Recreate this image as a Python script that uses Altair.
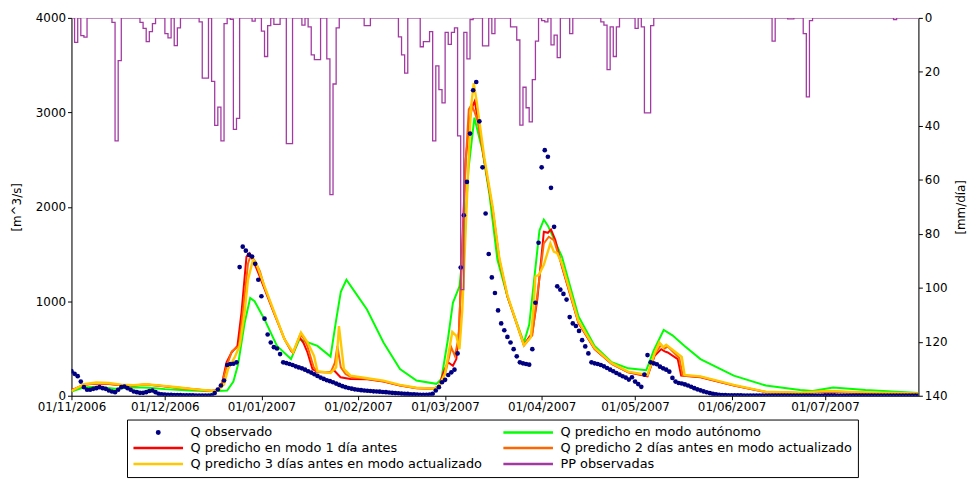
import altair as alt
import pandas as pd

START = "2006-11-01"

# ---------------- observed daily flow [m^3/s], day 0 = 01/11/2006 ----------------
q_obs = [
    260, 232, 207, 150, 91, 63, 63, 73, 80, 91,
    80, 73, 56, 45, 38, 63, 91, 98, 80, 63,
    45, 38, 31, 31, 38, 50, 56, 38, 21, 15,
    12, 10, 9, 8, 7, 6, 5, 5, 4, 4,
    3, 3, 3, 3, 3, 5, 28, 66, 108, 161,
    325, 336, 339, 354, 1362, 1578, 1536, 1491, 1473, 1396,
    1228, 1053, 816, 648, 564, 514, 500, 441, 354, 346,
    336, 325, 311, 300, 290, 276, 259, 245, 227, 210,
    192, 178, 164, 154, 143, 129, 115, 101, 91, 82,
    75, 68, 63, 59, 56, 53, 50, 47, 45, 43,
    40, 38, 34, 31, 28, 26, 23, 21, 19, 16,
    14, 13, 11, 10, 10, 12, 21, 56, 91, 143,
    168, 220, 248, 276, 448, 1358, 1911, 2264, 2775, 3234,
    3321, 2905, 2418, 1929, 1500, 1253, 1088, 903, 766, 693,
    623, 564, 493, 417, 354, 343, 336, 329, 493, 984,
    1620, 2418, 2600, 2530, 2201, 1788, 1158, 1123, 1078, 1018,
    833, 766, 738, 686, 588, 522, 448, 354, 343, 336,
    325, 311, 294, 276, 259, 241, 224, 206, 192, 171,
    196, 150, 123, 94, 224, 430, 354, 343, 333, 308,
    290, 276, 255, 189, 150, 135, 130, 120, 108, 95,
    80, 68, 57, 46, 37, 28, 20, 14, 10, 7,
    6, 5, 5, 4, 4, 4, 3, 3, 3, 3,
    3, 3, 3, 3, 3, 3, 3, 3, 3, 3,
    3, 3, 3, 3, 3, 3, 3, 3, 3, 3,
    3, 3, 4, 4, 4, 4, 3, 3, 3, 3,
    3, 3, 3, 3, 3, 3, 3, 3, 3, 3,
    3, 3, 3, 3, 3, 3, 3, 3, 3, 3,
    3, 3, 3,
]

# ---------------- predicted flows (days since 01/11/2006, m^3/s) ----------------
green_days = [0, 4, 8, 14, 20, 25, 30, 38, 45, 50,
              52, 53.5, 55.6, 57.4, 58.8, 62, 66, 70.5, 73.2, 79,
              83.2, 85, 86.5, 88.3, 91, 94.9, 100.2, 105.5, 110.8, 117.2,
              118.8, 120.9, 122.5, 124.6, 126, 127.5, 129.4, 132, 134.2, 136.8,
              140, 145.3, 147, 148.5, 150.3, 151.7, 153, 157.5, 162.8, 168,
              173.5, 178.8, 184.6, 187, 190.2, 193, 196.8, 202, 212.7, 223,
              234, 238, 244.6, 255, 272]
green_vals = [45, 88, 95, 75, 90, 85, 70, 55, 48, 55,
              150, 330, 770, 1036, 1000, 808, 528, 388, 598, 528,
              415, 800, 1100, 1228, 1100, 913, 564, 283, 161, 126,
              178, 598, 984, 1158, 1600, 2400, 2943, 2593, 2138, 1438,
              1050, 564, 750, 1200, 1750, 1865, 1800, 1473, 843, 528,
              354, 290, 270, 480, 696, 640, 528, 388, 213, 108,
              60, 50, 88, 60, 30]

red_days = [0, 4, 8, 12, 16, 20, 24, 28, 34, 40,
            45, 47, 48.2, 49.8, 51.4, 53.3, 54.6, 56.2, 57.2, 58.5,
            60, 62, 65.2, 68.4, 70.5, 71.2, 73.2, 74.5, 75.8, 77.4,
            79, 83, 84.3, 86.4, 89.6, 95, 100.2, 105.5, 110.8, 116,
            118, 119.5, 120.9, 122.5, 123.6, 124.5, 125.5, 126.6, 127.8, 128.6,
            129.5, 130.4, 132.6, 135.3, 137.4, 140, 145.3, 148, 149.6, 151.7,
            153, 154, 155.4, 157.5, 162.8, 168, 173.5, 178.8, 185, 187.3,
            189.4, 190.5, 191.5, 194.7, 195.8, 202, 212.7, 223, 234, 242.5,
            255, 272]
red_vals = [60, 115, 130, 125, 110, 108, 118, 105, 85, 65,
            50, 60, 110, 354, 458, 528, 879, 1473, 1508, 1420,
            1300, 1130, 860, 600, 480, 455, 620, 560, 458, 283,
            250, 248, 270, 196, 178, 175, 150, 108, 80, 73,
            100, 250, 354, 318, 388, 700, 1600, 2500, 2900, 3050,
            3118, 2950, 2488, 1963, 1438, 1050, 540, 668, 1018, 1735,
            1725, 1760, 1648, 1368, 773, 493, 336, 248, 206, 423,
            493, 470, 458, 388, 213, 196, 108, 38, 28, 45,
            30, 21]

orange_days = [0, 4, 8, 12, 16, 20, 24, 28, 34, 40,
               45, 47, 48.5, 50, 51.5, 53.8, 55, 56.7, 57.6, 59,
               60.5, 62, 65.2, 68.4, 70.6, 71.2, 73.5, 74.8, 75.8, 77.8,
               79, 83.2, 84.6, 85.4, 86.5, 88, 89.6, 95, 100.2, 105.5,
               110.8, 116, 118, 120, 122, 123.1, 124.3, 125.5, 126.5, 127.6,
               128.5, 129.5, 130.5, 132.6, 135.3, 137.4, 140, 145.3, 148, 149,
               150.5, 151.7, 153.3, 154.9, 157.5, 162.8, 168, 173.5, 178.8, 185,
               187.3, 189.4, 190.5, 191.5, 195.2, 196.3, 202, 212.7, 223, 234,
               242.5, 255, 272]
orange_vals = [55, 118, 132, 128, 112, 110, 120, 108, 88, 67,
               52, 58, 150, 330, 470, 528, 879, 1400, 1490, 1420,
               1320, 1150, 870, 600, 470, 455, 650, 600, 520, 300,
               250, 245, 350, 528, 300, 230, 200, 180, 152, 110,
               82, 75, 95, 230, 511, 423, 600, 1500, 2400, 3031,
               3080, 3000, 2900, 2488, 1970, 1445, 1055, 530, 640, 913,
               1300, 1613, 1683, 1648, 1380, 780, 500, 340, 250, 215,
               440, 540, 500, 520, 400, 213, 200, 110, 40, 30,
               48, 32, 22]

yellow_days = [0, 4, 8, 12, 16, 20, 24, 28, 34, 40,
               45, 47, 49, 50.3, 52.4, 54, 55.6, 56.7, 58.3, 59.3,
               62, 65.2, 68.4, 70.5, 71.2, 73.7, 75.8, 77.9, 79, 83.2,
               85, 85.9, 87.5, 89.6, 95, 100.2, 105.5, 110.8, 116, 118,
               120, 122.3, 123.6, 124.6, 125.5, 126.2, 127.3, 128.3, 129.2, 130.2,
               132.6, 135.3, 137.4, 140, 145.3, 147.5, 148.3, 149, 150.1, 151.7,
               153.8, 154.9, 156, 157.5, 162.8, 168, 173.5, 178.8, 185, 187.3,
               188.8, 190, 191, 196, 196.9, 202, 212.7, 223, 234, 242.5,
               255, 272]
yellow_vals = [50, 122, 140, 135, 118, 112, 122, 110, 90, 68,
               53, 55, 120, 283, 406, 528, 879, 1228, 1440, 1403,
               1158, 879, 598, 493, 460, 668, 564, 423, 260, 241,
               300, 738, 283, 213, 185, 160, 115, 85, 75, 95,
               240, 675, 633, 493, 900, 1438, 2313, 3048, 3310, 3100,
               2520, 1990, 1460, 1065, 535, 620, 900, 1263, 1280, 1386,
               1613, 1526, 1508, 1400, 790, 505, 345, 255, 220, 450,
               564, 511, 540, 410, 220, 205, 115, 42, 32, 52,
               35, 24]

# ---------------- observed precipitation [mm/dia] (days with rain) ----------------
pp_days = [1, 3, 4, 13, 14, 15, 22, 23, 24, 25, 26, 30, 31, 33, 34,
           41, 42, 43, 45, 46, 47, 48, 49, 51, 52, 53, 58, 61, 62, 63,
           65, 66, 69, 70, 74, 76, 77, 78, 79, 82, 83, 84, 85, 94, 95,
           105, 106, 107, 112, 113, 114, 115, 116, 117, 118, 119, 120, 121, 122, 123,
           124, 125, 126, 127, 128, 132, 133, 135, 141, 142, 143, 144, 145, 146, 147,
           148, 149, 151, 152, 154, 155, 156, 160, 170, 171, 172, 173, 174, 175, 181,
           183, 184, 185, 186, 225, 230, 231, 235, 236, 237, 264]
pp_mm = [9.1, 6.6, 7.1, 1.7, 45.6, 15.8, 1.7, 3.9, 8.8, 5.1, 2.1, 5.8, 7.4, 10.3, 3.7,
         1.5, 22.3, 22.3, 23.5, 39.8, 33.1, 45.6, 2.1, 0.5, 41.3, 37.2, 1.2, 4.9, 14.3, 2.9,
         2.4, 2.4, 46.6, 46.6, 2.7, 3.3, 13.7, 15.5, 15.5, 15.2, 65.5, 24.5, 3.7, 2.9, 2.9,
         7.0, 13.7, 20.5, 10.7, 8.8, 8.8, 5.1, 45.6, 17.8, 26.6, 31.5, 5.4, 9.8, 5.4, 3.7,
         43.7, 100.7, 5.4, 15.2, 0.6, 10.4, 10.4, 5.8, 3.3, 3.3, 8.2, 39.7, 25.7, 33.3, 38.5,
         22.9, 8.6, 1.0, 1.5, 10.0, 6.4, 14.7, 5.8, 1.5, 2.7, 19.2, 3.3, 14.3, 3.3, 3.9,
         3.3, 35.2, 35.2, 2.9, 8.6, 0.4, 0.4, 5.8, 29.3, 1.0, 0.6]

N_DAYS = 273
month_ticks = ["2006-11-01", "2006-12-01", "2007-01-01", "2007-02-01", "2007-03-01",
               "2007-04-01", "2007-05-01", "2007-06-01", "2007-07-01"]
x_end = "2007-07-31"

S_OBS = "Q observado"
S_AUT = "Q predicho en modo autónomo"
S_1D = "Q predicho en modo 1 día antes"
S_2D = "Q predicho 2 días antes en modo actualizado"
S_3D = "Q predicho 3 días antes en modo actualizado"
S_PP = "PP observadas"
series_order = [S_OBS, S_AUT, S_1D, S_2D, S_3D, S_PP]
series_colors = ["#000080", "#00ff00", "#ff0000", "#ff6600", "#ffc800", "#a23aa2"]

# ---------------- tables ----------------
base_ts = pd.Timestamp(START)


def ts_ms(s):
    return int(pd.Timestamp(s).value // 10**6)


def to_ms(days):
    return [int((base_ts + pd.Timedelta(days=float(d))).value // 10**6) for d in days]


obs_df = pd.DataFrame({"t": to_ms(range(len(q_obs))), "q": q_obs, "serie": S_OBS})


def line_df(days, vals, name):
    return pd.DataFrame({"t": to_ms(days), "q": vals, "serie": name})


pp_daily = [0.0] * N_DAYS
for d, v in zip(pp_days, pp_mm):
    pp_daily[d] = v
pp_df = pd.DataFrame({"t": to_ms(range(N_DAYS)), "pp": pp_daily, "serie": S_PP})

# ---------------- encodings ----------------
is_obs = "datum.value === 'Q observado'"
dot_path = "M-0.05,0A0.05,0.05,0,1,0,0.05,0A0.05,0.05,0,1,0,-0.05,0Z"
legend = alt.Legend(
    title=None, orient="none", legendX=56, legendY=405, columns=2, direction="horizontal",
    symbolType={"expr": f"{is_obs} ? '{dot_path}' : 'stroke'"},
    symbolSize=2500, symbolStrokeWidth=2.5,
    symbolFillColor={"expr": f"{is_obs} ? '#000080' : 'transparent'"},
    symbolOpacity=1,
    labelFont="DejaVu Sans", labelFontSize=13, labelColor="black",
    labelOffset=6, labelLimit=600, columnPadding=19, rowPadding=0,
    padding=5, strokeColor="black", fillColor="white", clipHeight=15.5,
)
color = alt.Color("serie:N", scale=alt.Scale(domain=series_order, range=series_colors),
                  legend=legend)

x_enc = alt.X(
    "t:T",
    scale=alt.Scale(type="utc", domain=[ts_ms(START), ts_ms(x_end)]),
    axis=alt.Axis(values=[ts_ms(s) for s in month_ticks],
                  labelExpr="utcFormat(datum.value, '%d/%m/%Y')", title=None, grid=False,
                  labelOverlap=False, labelFlush=False, labelFontSize=12, tickSize=4,
                  labelPadding=2),
)

q_axis = alt.Axis(values=[0, 1000, 2000, 3000, 4000], format="d", title="[m^3/s]", grid=False,
                  labelFontSize=12, tickSize=4, labelPadding=2, titlePadding=12)
y_q = alt.Y("q:Q", scale=alt.Scale(domain=[0, 4000], nice=False), axis=q_axis)


def q_line(df, width):
    return alt.Chart(df).mark_line(strokeWidth=width, clip=True).encode(y=y_q, color=color)


green = q_line(line_df(green_days, green_vals, S_AUT), 2.0)
red = q_line(line_df(red_days, red_vals, S_1D), 2.0)
orange = q_line(line_df(orange_days, orange_vals, S_2D), 2.0)
yellow = q_line(line_df(yellow_days, yellow_vals, S_3D), 2.4)
obs = alt.Chart(obs_df).mark_circle(size=22, opacity=1, clip=True).encode(y=y_q, color=color)

q_layers = alt.layer(green, red, orange, yellow, obs)

pp = alt.Chart(pp_df).mark_line(interpolate="step-after", strokeWidth=1.3, clip=True).encode(
    y=alt.Y("pp:Q", scale=alt.Scale(domain=[0, 140], reverse=True, nice=False),
            axis=alt.Axis(orient="right", values=list(range(0, 141, 20)), format="d",
                          title="[mm/día]", titleAngle=270, titleBaseline="top",
                          grid=False, labelFontSize=12, tickSize=4, labelPadding=2,
                          titlePadding=9)),
    color=color,
)

chart = alt.layer(q_layers, pp).encode(x=x_enc).resolve_scale(y="independent").properties(
    width=854, height=381,
    autosize=alt.AutoSizeParams(type="none"),
    padding={"left": 64, "top": 8, "right": 51, "bottom": 84},
).configure(font="DejaVu Sans").configure_axis(
    labelColor="black", tickColor="black", domainColor="black", titleColor="black",
    titleFontWeight="normal", titleFontSize=12, labelFont="DejaVu Sans", titleFont="DejaVu Sans",
).configure_view(stroke="#d8d8d8")

chart.save("out.html", embed_options={"renderer": "svg", "actions": False})
